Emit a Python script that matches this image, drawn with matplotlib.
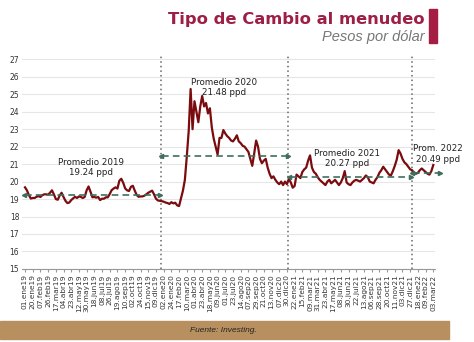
import matplotlib
matplotlib.use("Agg")
import matplotlib.pyplot as plt
from matplotlib.patches import Rectangle
import numpy as np

# etiquetas del eje x (una cada 16 observaciones aprox.)
fechas = ["01.ene19", "20.ene19", "07.feb19", "26.feb19", "17.mar19", "04.abr19", "23.abr19",
          "12.may19", "30.may19", "18.jun19", "08.jul19", "26.jul19", "19.ago19", "10.sep19",
          "02.oct19", "24.oct19", "15.nov19", "09.dic19",
          "02.ene20", "24.ene20", "17.feb20", "10.mar20", "01.abr20", "23.abr20", "18.may20",
          "09.jun20", "01.jul20", "23.jul20", "14.ago20", "07.sep20", "29.sep20", "21.oct20",
          "13.nov20", "07.dic20", "30.dic20",
          "22.ene21", "15.feb21", "09.mar21", "31.mar21", "23.abr21", "17.may21", "08.jun21",
          "30.jun21", "22.jul21", "13.ago21", "06.sep21", "28.sep21", "20.oct21", "11.nov21",
          "03.dic21", "27.dic21",
          "18.ene22", "09.feb22", "03.mar22"]

# tipo de cambio, 4 lecturas por intervalo de etiqueta
tipo_cambio = [
    19.67, 19.5, 19.23, 19.03, 19.06, 19.06, 19.13, 19.17, 19.12, 19.22,
    19.27, 19.27, 19.25, 19.36, 19.5, 19.27, 19.0, 18.96, 19.2, 19.36,
    19.12, 18.9, 18.77, 18.8, 18.94, 19.04, 19.13, 19.06, 19.15, 19.12,
    19.06, 19.12, 19.5, 19.72, 19.42, 19.1, 19.12, 19.08, 19.12, 18.94,
    19.02, 19.02, 19.1, 19.1, 19.29, 19.51, 19.6, 19.67, 19.6, 20.05,
    20.16, 19.93, 19.61, 19.5, 19.46, 19.7, 19.76, 19.48, 19.23, 19.13,
    19.15, 19.15, 19.19, 19.27, 19.36, 19.42, 19.48, 19.27, 19.02, 18.92,
    18.9, 18.88, 18.85, 18.8, 18.77, 18.72, 18.82, 18.75, 18.79, 18.64,
    18.6, 19.04, 19.48, 20.09, 21.42, 22.9, 25.3, 23.0, 24.6, 24.0,
    23.4, 24.3, 24.9, 24.3, 24.5, 23.9, 24.2, 23.1, 22.45, 22.0,
    21.55, 22.5, 22.5, 22.95, 22.75, 22.6, 22.5, 22.35, 22.3, 22.45,
    22.65, 22.3, 22.2, 22.05, 22.0, 21.85, 21.7, 21.3, 20.9, 21.6,
    22.35, 22.0, 21.3, 21.05, 21.2, 21.3, 20.8, 20.45, 20.2, 20.3,
    20.1, 19.95, 19.85, 20.0, 19.8, 20.0, 19.85, 20.15, 19.95, 19.65,
    19.75, 20.4, 20.3, 20.2, 20.55, 20.7, 20.8, 21.2, 21.5, 20.8,
    20.55, 20.45, 20.25, 20.1, 20.0, 19.9, 19.8, 20.0, 20.1, 19.9,
    20.0, 20.1, 19.95, 19.8, 19.95, 20.2, 20.6, 19.95, 19.85, 19.8,
    19.95, 20.05, 20.1, 20.05, 20.0, 20.1, 20.2, 20.35, 20.25, 20.0,
    19.95, 19.9, 20.1, 20.25, 20.5, 20.65, 20.85, 20.7, 20.55, 20.4,
    20.35, 20.6, 20.9, 21.25, 21.8, 21.6, 21.3, 21.1, 21.0, 20.85,
    20.7, 20.65, 20.5, 20.45, 20.5, 20.65, 20.75, 20.65, 20.55, 20.45,
    20.4, 20.6, 20.95]

promedios = [19.24, 21.48, 20.27, 20.49]
etiquetas_prom = ["Promedio 2019\n19.24 ppd", "Promedio 2020\n21.48 ppd",
                  "Promedio 2021\n20.27 ppd", "Prom. 2022\n20.49 ppd"]

# cortes de año en unidades de etiqueta
cortes = [-0.2, 17.6, 34.2, 50.2, 54.0]
pos_texto = [(8.6, 20.8), (25.8, 25.4), (41.8, 21.3), (53.6, 21.58)]

guinda = "#9e1f45"
verde = "#3f6e5e"

fig = plt.figure(figsize=(4.74, 3.42), dpi=100)
ax = fig.add_axes([0.0464, 0.2137, 0.8713, 0.6231])

x = np.arange(len(tipo_cambio)) / 4
ax.plot(x, tipo_cambio, color="#7a0b0e", linewidth=1.6, zorder=3)

for c in cortes[1:4]:
    ax.axvline(c, color="#666666", linestyle=(0, (1, 2)), linewidth=1.1, zorder=2)

for i in range(4):
    x0, x1 = cortes[i], cortes[i + 1]
    y = promedios[i]
    ax.plot([x0 + 0.15, x1 - 0.15], [y, y], color=verde, linestyle=(0, (4, 2.5)),
            linewidth=1.2, zorder=4, clip_on=False)
    ax.plot([x0 + 0.1], [y], marker="<", color=verde, markersize=3, zorder=4, clip_on=False)
    ax.plot([x1 - 0.1], [y], marker=">", color=verde, markersize=3, zorder=4, clip_on=False)
    ax.text(pos_texto[i][0], pos_texto[i][1], etiquetas_prom[i], ha="center", va="center",
            fontsize=6.3, color="#222222", linespacing=1.15, zorder=5)

ax.set_xlim(-0.39, 53.22)
ax.set_ylim(15, 27.2)
ax.set_yticks(range(15, 28))
ax.set_xticks(range(len(fechas)))
ax.set_xticklabels(fechas, rotation=90, fontsize=5.3, color="#333333")
ax.tick_params(axis="y", length=0, labelsize=5.5, labelcolor="#333333", pad=2)
ax.tick_params(axis="x", length=2.5, color="#999999", pad=1.5)
ax.grid(axis="y", color="#e6e6e6", linewidth=0.8)
ax.set_axisbelow(True)
for s in ["top", "right", "left"]:
    ax.spines[s].set_visible(False)
ax.spines["bottom"].set_color("#999999")
ax.spines["bottom"].set_linewidth(0.8)

fig.text(0.8966, 0.944, "Tipo de Cambio al menudeo", ha="right", va="center",
         fontsize=11.8, fontweight="bold", color=guinda)
fig.text(0.8966, 0.892, "Pesos por dólar", ha="right", va="center",
         fontsize=10.5, style="italic", color="#777777", family="Liberation Sans")
fig.patches.append(Rectangle((0.905, 0.875), 0.017, 0.098, transform=fig.transFigure,
                             color="#a51c45"))

fig.patches.append(Rectangle((0.0, 0.009), 0.947, 0.051, transform=fig.transFigure,
                             color="#b89060"))
fig.text(0.40, 0.035, "Fuente: Investing.", ha="left", va="center", fontsize=6,
         style="italic", color="#222222", family="Liberation Sans")

fig.savefig("out.png", dpi=100)
